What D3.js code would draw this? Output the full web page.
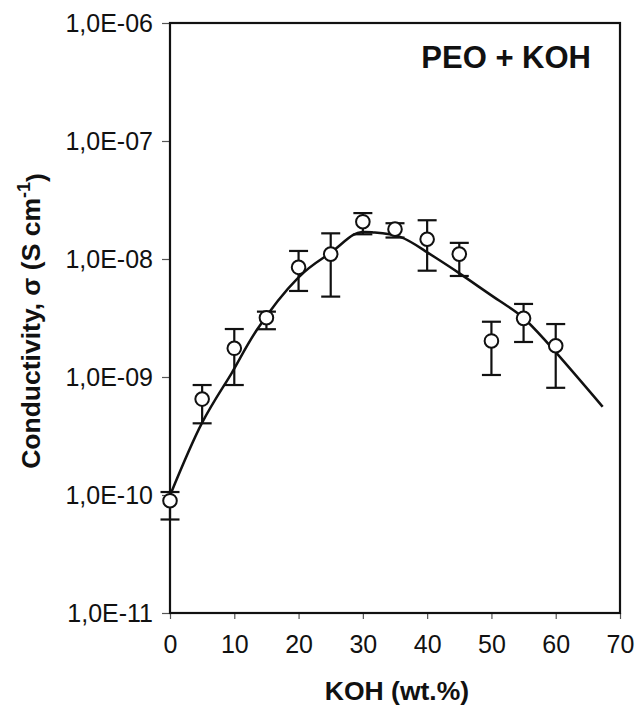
<!DOCTYPE html>
<html>
<head>
<meta charset="utf-8">
<script src="https://cdn.jsdelivr.net/npm/d3@7"></script>
<style>
  body { margin: 0; background: #fff; }
  text { font-family: "Liberation Sans", Arial, sans-serif; fill: #111; }
</style>
</head>
<body>
<svg id="chart" width="637" height="705"></svg>
<script>
// measured points (KOH wt.%, conductivity S/cm)
var koh   = [0, 5, 10, 15, 20, 25, 30, 35, 40, 45, 50, 55, 60];
var sigma = [8.95e-11, 6.5e-10, 1.75e-9, 3.18e-9, 8.5e-9, 1.10e-8, 2.07e-8, 1.79e-8, 1.47e-8, 1.10e-8, 2.02e-9, 3.14e-9, 1.84e-9];
var sigmaHi = [1.06e-10, 8.55e-10, 2.55e-9, 3.58e-9, 1.17e-8, 1.65e-8, 2.45e-8, 2.01e-8, 2.13e-8, 1.37e-8, 2.94e-9, 4.16e-9, 2.81e-9];
var sigmaLo = [6.2e-11, 4.05e-10, 8.55e-10, 2.54e-9, 5.36e-9, 4.8e-9, 1.62e-8, 1.52e-8, 7.96e-9, 7.18e-9, 1.04e-9, 1.98e-9, 8.1e-10];

// fitted curve
var fitX = [0, 5, 9.6, 13.5, 20, 24.9, 28.5, 31.6, 35.8, 39.9, 44.8, 51.3, 55, 60.1, 67.3];
var fitY = [9.9e-11, 4.1e-10, 1.08e-9, 2.5e-9, 7.0e-9, 1.12e-8, 1.6e-8, 1.68e-8, 1.54e-8, 1.15e-8, 7.7e-9, 4.4e-9, 3.16e-9, 1.6e-9, 5.6e-10];

var xTicks = [0, 10, 20, 30, 40, 50, 60, 70];
var yTicks = [1e-11, 1e-10, 1e-9, 1e-8, 1e-7, 1e-6];
var yTickLabels = ["1,0E-11", "1,0E-10", "1,0E-09", "1,0E-08", "1,0E-07", "1,0E-06"];

var svg = d3.select("#chart");
var pLeft = 170, pRight = 620, pTop = 23, pBottom = 613;

var x = d3.scaleLinear().domain([0, 70]).range([pLeft, pRight]);
var y = d3.scaleLog().domain([1e-11, 1e-6]).range([pBottom, pTop]);

// axes
var yAxis = svg.append("g")
  .attr("transform", "translate(" + pLeft + ",0)")
  .call(d3.axisLeft(y).tickValues(yTicks).tickSize(8).tickPadding(9)
    .tickFormat(function(d, i) { return yTickLabels[i]; }));
var xAxis = svg.append("g")
  .attr("transform", "translate(0," + pBottom + ")")
  .call(d3.axisBottom(x).tickValues(xTicks).tickSize(6).tickPadding(10));

[yAxis, xAxis].forEach(function(g) {
  g.select(".domain").remove();
  g.selectAll(".tick line").attr("stroke", "#555").attr("stroke-width", 1.2);
  g.selectAll(".tick text").style("font-size", "25px").style("font-family", "'Liberation Sans', Arial, sans-serif").attr("fill", "#111");
});
yAxis.selectAll(".tick text").attr("dy", "0.34em");
xAxis.selectAll(".tick text").attr("dy", "0.95em");

// frame
svg.append("rect")
  .attr("x", pLeft).attr("y", pTop)
  .attr("width", pRight - pLeft).attr("height", pBottom - pTop)
  .attr("fill", "none").attr("stroke", "#111").attr("stroke-width", 2.2);

// fitted line
var line = d3.line()
  .x(function(d, i) { return x(fitX[i]); })
  .y(function(d) { return y(d); })
  .curve(d3.curveNatural);
svg.append("path")
  .datum(fitY)
  .attr("d", line)
  .attr("fill", "none").attr("stroke", "#111").attr("stroke-width", 2.5);

// error bars
var bars = svg.append("g").attr("stroke", "#111").attr("stroke-width", 2.2);
koh.forEach(function(k, i) {
  bars.append("line").attr("x1", x(k)).attr("x2", x(k)).attr("y1", y(sigmaLo[i])).attr("y2", y(sigmaHi[i]));
  [sigmaLo[i], sigmaHi[i]].forEach(function(v) {
    bars.append("line").attr("x1", x(k) - 9.5).attr("x2", x(k) + 9.5).attr("y1", y(v)).attr("y2", y(v));
  });
});

// points
svg.append("g").selectAll("circle")
  .data(sigma)
  .enter().append("circle")
  .attr("cx", function(d, i) { return x(koh[i]); })
  .attr("cy", function(d) { return y(d); })
  .attr("r", 6.8)
  .attr("fill", "#fff").attr("stroke", "#111").attr("stroke-width", 2);

// labels
svg.append("text")
  .attr("x", 591).attr("y", 68)
  .attr("text-anchor", "end")
  .style("font-size", "31px").style("font-weight", "bold")
  .text("PEO + KOH");

svg.append("text")
  .attr("x", (pLeft + pRight) / 2 + 2).attr("y", 700)
  .attr("text-anchor", "middle")
  .style("font-size", "26.5px").style("font-weight", "bold")
  .text("KOH (wt.%)");

var yt = svg.append("text")
  .attr("transform", "translate(40," + ((pTop + pBottom) / 2 + 3) + ") rotate(-90)")
  .attr("text-anchor", "middle")
  .style("font-size", "26.5px").style("font-weight", "bold");
yt.append("tspan").text("Conductivity, σ (S cm");
yt.append("tspan").attr("dy", "-0.55em").style("font-size", "18px").text("-1");
yt.append("tspan").attr("dy", "0.55em").text(")");
</script>
</body>
</html>
